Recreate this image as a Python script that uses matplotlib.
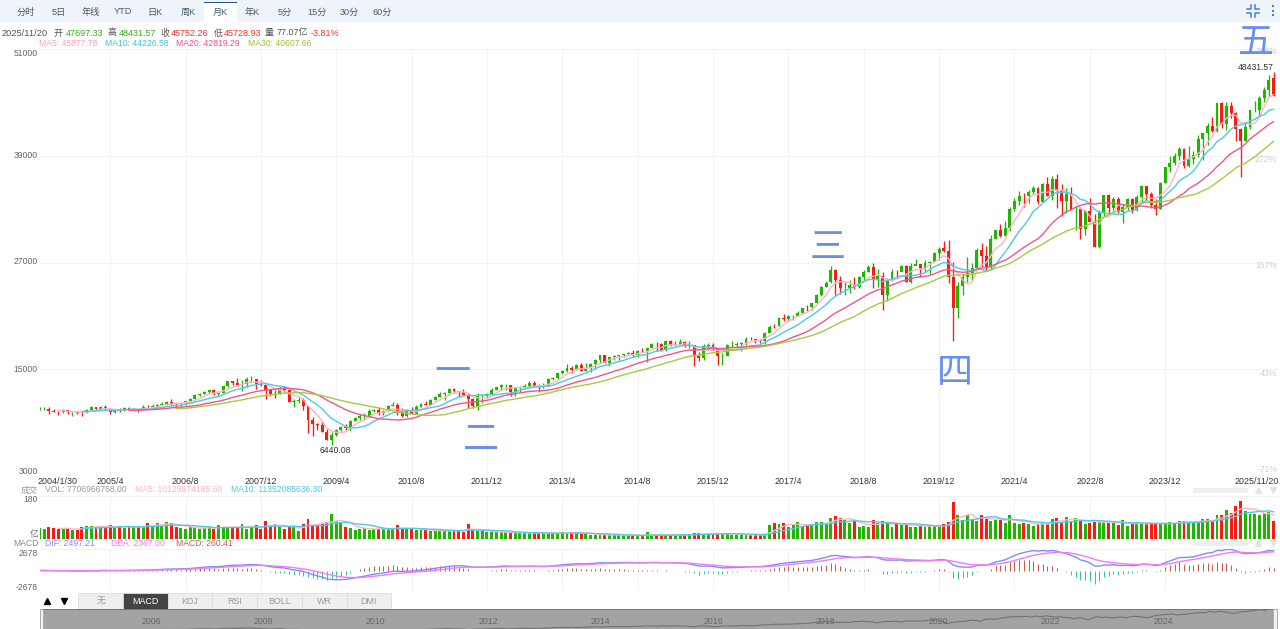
import numpy as np
import pandas as pd
import matplotlib
matplotlib.use('Agg')
import matplotlib.pyplot as plt
from matplotlib.patches import Rectangle

opens = [
 10454,10488,10584,10358,10226,10188,10435,10140,10174,10080,10027,10428,
 10783,10490,10766,10504,10193,10467,10275,10641,10482,10569,10440,10806,
 10718,10865,10993,11109,11367,11168,11150,11186,11381,11679,12081,12222,
 12463,12622,12269,12354,13063,13628,13409,13212,13358,13896,13930,13372,
 13262,12650,12266,12263,12820,12638,11346,11378,11544,10851,9325,8829,
 8772,8001,7063,7609,8168,8500,8447,9172,9496,9712,9713,10345,
 10428,10067,10325,10857,11009,10137,9774,10466,10015,10788,11118,11006,
 11577,11892,12226,12320,12811,12570,12414,12143,11614,10913,11955,12046,
 12218,12633,12952,13212,13214,12393,12880,13009,13091,13437,13096,13026,
 13104,13861,14054,14579,14840,15116,14910,15500,14810,15130,15546,16086,
 16577,15699,16322,16458,16581,16717,16827,16563,17098,17043,17391,17828,
 17823,17165,18133,17776,17841,18011,17620,17690,16528,16285,17664,17720,
 17425,16466,16517,17685,17774,17787,17930,18432,18401,18308,18142,19124,
 19872,19864,20812,20663,20941,21009,21350,21961,21948,22405,23377,24272,
 24809,26149,25029,24103,24163,24416,24271,25415,25965,26458,25116,25538,
 23346,25000,25958,25929,26593,24815,26600,26864,26403,26917,27046,28051,
 28639,28256,25409,21917,24346,25383,25813,26428,28430,27782,26502,29639,
 30606,29983,30932,32982,33875,34530,34503,34935,35361,33844,35820,34484,
 36338,35132,33893,34678,32977,32990,30775,32845,31510,28726,32733,34590,
 33147,34086,32657,33274,34098,32908,34408,35560,34722,33508,33053,35951,
 37690,38150,38996,39807,37816,38686,39119,40843,41563,42330,41764,44911,
 42544,44545,43841,42002,40669,42270,44095,44131,45545,46398,47697]
closes = [
 10488,10584,10358,10226,10188,10435,10140,10174,10080,10027,10428,10783,
 10490,10766,10504,10193,10467,10275,10641,10482,10569,10440,10806,10718,
 10865,10993,11109,11367,11168,11150,11186,11381,11679,12081,12222,12463,
 12622,12269,12354,13063,13628,13409,13212,13358,13896,13930,13372,13265,
 12650,12266,12263,12820,12638,11350,11378,11544,10851,9325,8829,8776,
 8001,7063,7609,8168,8500,8447,9172,9496,9712,9713,10345,10428,
 10067,10325,10857,11009,10137,9774,10466,10015,10788,11118,11006,11578,
 11892,12226,12320,12811,12570,12414,12143,11614,10913,11955,12046,12218,
 12633,12952,13212,13214,12393,12880,13009,13091,13437,13096,13026,13104,
 13861,14054,14579,14840,15116,14910,15500,14810,15130,15546,16086,16577,
 15699,16322,16458,16581,16717,16827,16563,17098,17043,17391,17828,17823,
 17165,18133,17776,17841,18011,17620,17690,16528,16285,17664,17720,17425,
 16466,16517,17685,17774,17787,17930,18432,18401,18308,18142,19124,19763,
 19864,20812,20663,20941,21009,21350,21891,21948,22405,23377,24272,24719,
 26149,25029,24103,24163,24416,24271,25415,25965,26458,25116,25538,23327,
 25000,25916,25929,26593,24815,26600,26864,26403,26917,27046,28051,28538,
 28256,25409,21917,24346,25383,25813,26428,28430,27782,26502,29639,30606,
 29983,30932,32982,33875,34530,34503,34935,35361,33844,35820,34484,36338,
 35132,33893,34678,32977,32990,30775,32845,31510,28726,32733,34590,33147,
 34086,32657,33274,34098,32908,34408,35560,34722,33508,33053,35951,37690,
 38150,38996,39807,37816,38686,39119,40843,41563,42330,41763,44911,42544,
 44545,43841,42002,40669,42270,44095,44131,45545,46398,47563,45752]
highs = [
 10703,10754,10754,10570,10283,10480,10362,10232,10342,10239,10572,10868,
 10784,10842,10984,10571,10542,10656,10705,10719,10700,10568,10931,10985,
 11043,11137,11317,11416,11709,11258,11243,11432,11718,12167,12361,12580,
 12683,12795,12587,13162,13692,13692,14022,13746,14115,14198,13778,13777,
 13279,12767,12622,13010,13136,12657,11698,11867,11790,10882,9654,8934,
 9088,8280,7976,8259,8588,8877,9239,9630,9918,10119,10497,10580,
 10730,10454,10973,11309,11258,10595,10580,10720,10948,11247,11451,11626,
 12020,12391,12419,12876,12876,12570,12753,12284,11717,12285,12188,12330,
 12843,13055,13290,13338,13279,12898,13160,13330,13653,13662,13290,13430,
 13970,14150,14586,14888,15542,15340,15634,15658,15710,15722,16175,16588,
 16588,16398,16589,16632,16736,16979,17152,17153,17350,17396,17895,18103,
 17951,18245,18289,18175,18351,18134,18138,17662,16933,17800,17978,17997,
 17405,16795,17790,18168,18017,18017,18623,18668,18450,18400,19153,19987,
 20126,20851,21170,21070,21113,21535,21930,22179,22420,23485,24328,24876,
 26617,26306,25450,24858,25087,25403,25461,26168,26770,26952,26277,25981,
 25240,26241,26156,26696,26668,26908,27399,26864,27306,27126,28174,28702,
 29374,29569,27102,24765,25759,27580,27000,28648,29199,28903,30116,30606,
 31272,31643,33259,34257,35091,34849,35171,35631,35444,35892,36565,36679,
 36953,35824,35372,35492,33312,33272,32910,34281,32504,32889,34600,34712,
 34335,34335,33572,34257,34257,34588,35679,35070,34979,34142,36025,37790,
 38927,39282,40003,39889,40077,39576,41376,41578,42628,43325,44900,45074,
 45054,45074,43900,42100,42842,44140,45138,45757,46715,48041,48431]
lows = [
 10417,10420,10014,10188,9853,10133,9961,9784,10002,9708,10027,10428,
 10368,10431,10403,10012,10094,10248,10259,10397,10320,10156,10406,10661,
 10661,10690,10933,11017,10955,10699,10684,11020,11285,11626,11985,12243,
 12330,12050,11939,12336,12990,13266,13111,12518,13029,13603,12725,13100,
 11635,12034,11731,12210,12459,11285,10731,11221,10365,7882,7449,8118,
 7909,7050,6440,7489,8057,8222,8087,9135,9252,9430,9679,10235,
 9908,9835,10322,10863,9870,9616,9614,9936,10009,10751,10929,11006,
 11575,11846,11555,12093,12309,11875,12090,10604,10597,10404,11231,11735,
 12217,12630,12705,12710,12035,12036,12492,12880,12977,13040,12471,12884,
 13105,13785,13937,14434,14700,14551,14900,14760,14777,14720,15075,15703,
 15699,15340,16015,16016,16334,16675,16333,16368,16945,15855,17372,17067,
 17038,17037,17585,17665,17736,17466,17400,15370,15942,16013,17210,17138,
 15450,15503,16546,17484,17331,17063,17713,18247,17992,17959,17884,19150,
 19678,19831,20412,20379,20554,21000,21279,21600,21709,22416,23242,24242,
 24741,23360,23509,23345,23531,23998,24078,25010,25978,24123,24268,21713,
 22638,24884,25209,25999,24829,24680,26700,25339,25979,25743,27301,27325,
 28170,24681,18213,20735,23361,24843,25000,26326,26537,26143,26269,29588,
 29857,29960,30547,32787,33473,33272,33741,34690,33613,33785,34424,34006,
 33150,32272,32578,32913,30635,29653,30143,32396,28715,28661,32208,32573,
 32812,32617,31429,32931,32586,32810,33706,34029,33176,32327,33044,35904,
 37122,37983,38487,37611,37772,38074,38879,38499,40253,41659,41659,42084,
 41844,43222,40661,36612,40700,41981,43900,43340,45051,45700,45729]
volumes = [
 45,41,52,45,41,45,45,37,39,52,55,55,50,52,52,58,48,52,48,52,50,52,52,66,
 55,66,55,72,66,52,45,44,52,48,41,47,50,44,58,50,47,48,48,63,41,50,59,41,
 76,52,63,52,44,52,52,34,63,84,60,58,65,72,104,76,66,52,47,38,44,48,38,43,
 44,45,41,41,58,44,44,43,38,38,38,33,36,34,34,36,36,38,32,63,37,34,33,30,
 30,28,29,28,28,26,28,25,25,25,25,25,25,23,23,28,25,29,28,23,23,19,17,18,
 18,18,18,18,12,18,17,14,14,29,14,17,18,18,19,18,18,18,19,25,25,22,22,23,
 26,25,23,19,17,19,19,18,18,18,17,59,66,62,67,52,60,70,52,58,59,70,70,66,
 88,96,89,78,69,74,52,55,52,78,69,77,72,52,66,59,59,52,52,59,51,56,54,51,
 63,72,154,98,80,98,84,74,100,85,77,80,80,69,98,67,65,69,62,55,63,69,63,84,
 88,72,92,72,88,76,63,69,74,73,72,69,69,59,80,54,65,65,65,69,63,63,65,65,
 70,65,76,77,72,69,72,84,84,73,100,99,120,107,138,158,117,106,105,100,107,113,77]
tick_labels = ['2005/4','2006/8','2007/12','2009/4','2010/8','2011/12','2013/4','2014/8',
               '2015/12','2017/4','2018/8','2019/12','2021/4','2022/8','2023/12']
price_ticks = [3000, 15000, 27000, 39000, 51000]
pct_labels = ['-71%', '43%', '157%', '272%', '386%']
nav_years = [2006, 2008, 2010, 2012, 2014, 2016, 2018, 2020, 2022, 2024]
tabs = ['分时','5日','年线','YTD','日K','周K','月K','年K','5分','15分','30分','60分']
ind_tabs = ['无','MACD','KDJ','RSI','BOLL','WR','DMI']

GREEN, RED = '#22b500', '#fb1a12'
C_MA5, C_MA10, C_MA20, C_MA30 = '#ffb3c8', '#4ec9e6', '#f2558c', '#a9c93f'
FONT = ['Liberation Sans', 'Noto Sans CJK SC']
W, H = 1280, 629
plt.rcParams['font.family'] = FONT
fig = plt.figure(figsize=(W/100, H/100), dpi=100, facecolor='white')

def panel(l, t, r, b, **kw):
    return fig.add_axes([l/W, 1-b/H, (r-l)/W, (b-t)/H], **kw)

o, c, hi, lo = map(np.array, (opens, closes, highs, lows))
x = np.arange(len(c))
up = c >= o
month_idx = [(int(s.split('/')[0])-2004)*12 + int(s.split('/')[1]) - 1 for s in tick_labels]
XL = ((40-39.5)/4.71, (1279-39.5)/4.71)

def base(ax):
    ax.set_xlim(*XL)
    ax.set_xticks(month_idx)
    ax.set_xticklabels([])
    ax.tick_params(length=0)
    ax.set_yticklabels([])
    for s in ax.spines.values():
        s.set_visible(False)
    ax.grid(True, color='#f3f3f3', lw=0.8)
    ax.set_axisbelow(True)
    ax.patch.set_alpha(0)

# main
ax = panel(40, 49, 1279, 476)
ax.set_ylim(3000, 3000 + (476-49)*12000/107)
ax.set_yticks(price_ticks)
base(ax)
ax.vlines(x, lo, hi, colors=[GREEN if u else RED for u in up], lw=0.95)
ax.bar(x, np.abs(c-o), bottom=np.minimum(c, o), width=0.62,
       color=[GREEN if u else RED for u in up], linewidth=0)
s = pd.Series(closes, dtype=float)
for n, col in ((5, C_MA5), (10, C_MA10), (20, C_MA20), (30, C_MA30)):
    ax.plot(x, s.rolling(n).mean(), color=col, lw=1.0)

# volume
av = panel(40, 496.3, 1279, 539.3)
av.set_ylim(0, 177)
av.set_yticks([0, 177])
base(av)
av.bar(x, volumes, width=0.62, color=[GREEN if u else RED for u in up], linewidth=0)
vs = pd.Series(volumes, dtype=float)
av.plot(x, vs.rolling(5).mean(), color=C_MA5, lw=1.0)
av.plot(x, vs.rolling(10).mean(), color=C_MA10, lw=1.0)

# macd
am = panel(40, 549, 1279, 592)
am.set_ylim(-2730, 2730)
am.set_yticks([-2730, 2730])
base(am)
dif = s.ewm(span=12, adjust=False).mean() - s.ewm(span=26, adjust=False).mean()
dea = dif.ewm(span=9, adjust=False).mean()
hist = 2*(dif-dea)
am.vlines(x, 0, hist, colors=['#c8553f' if v >= 0 else '#2fc49a' for v in hist], lw=0.7)
am.plot(x, dif, color='#7f8cff', lw=1.0)
am.plot(x, dea, color='#f57bf5', lw=1.0)

# navigator
an = panel(43, 609, 1273, 629)
an.set_facecolor('#a3a3a3')
an.set_xlim(24+(43-151)/4.685, 24+(1273-151)/4.685)
an.set_ylim(46000-18.5*1830, 46000+1.5*1830)
an.set_xticks([]); an.set_yticks([])
for sp in an.spines.values():
    sp.set_visible(False)
an.plot(x, s, color='#737373', lw=0.8)

# overlay
ov = fig.add_axes([0, 0, 1, 1])
ov.set_xlim(0, W); ov.set_ylim(H, 0); ov.axis('off'); ov.patch.set_alpha(0)

def T(px, py, txt, color='#666666', size=6.2, ha='left', va='center', **kw):
    ov.text(px, py, txt, color=color, fontsize=size, ha=ha, va=va, family=FONT, **kw)

def R(l, t, r, b, fc, ec='none', lw=0, z=1):
    ov.add_patch(Rectangle((l, t), r-l, b-t, facecolor=fc, edgecolor=ec, linewidth=lw, zorder=z))

# top bar
R(0, 0, W, 22, '#eff4fb')
R(204, 2, 236.5, 22.5, 'white')
R(204, 1.5, 236.5, 3, '#1f4fa8')
for i, t in enumerate(tabs):
    T(26 + i*32.37, 12, t, '#4a5a6a', 6.6, ha='center')
for xs, ys in (((1247, 1251, 1251), (9, 9, 5)), ((1259, 1255, 1255), (9, 9, 5)),
               ((1247, 1251, 1251), (13, 13, 17)), ((1259, 1255, 1255), (13, 13, 17))):
    ov.plot(xs, ys, color='#3a7fe0', lw=1.1)
for yy in (6, 10.5, 15):
    R(1272, yy-1, 1274, yy+1, '#3a7fe0')

# header
T(2, 33, '2025/11/20', '#555555', 6.7)
for px, t, col in ((54, '开', '#555555'), (66, '47697.33', '#36b21e'), (107, '高', '#555555'),
                   (119, '48431.57', '#36b21e'), (160, '收', '#555555'), (171, '45752.26', '#f0342c'),
                   (214, '低', '#555555'), (224, '45728.93', '#f0342c'), (265, '量', '#555555'),
                   (277, '77.07亿', '#555555'), (311, '-3.81%', '#f0342c')):
    T(px, 33, t, col, 6.5)
for px, t, col in ((39, 'MA5: 45877.78', '#ff9fbd'), (105, 'MA10: 44226.58', '#3fc4e4'),
                   (176, 'MA20: 42819.29', '#f0508a'), (248, 'MA30: 40607.66', '#9cc22e')):
    T(px, 44, t, col, 6.2)

# price axis labels
for v, yy in zip(price_ticks, (471, 369, 262, 156, 53)):
    T(38, yy, f'{v}', '#666666', 6.2, ha='right')
for t, yy in zip(pct_labels, (470, 373, 266, 159, 52)):
    T(1277, yy, t, '#cfcfcf', 6.2, ha='right')

# date labels
T(38, 481.5, '2004/1/30', '#333333', 6.4)
T(1279, 481.5, '2025/11/20', '#333333', 6.4, ha='right')
for t, m in zip(tick_labels, month_idx):
    T(39.5+4.71*m, 481.5, t, '#333333', 6.4, ha='center')
T(335, 450.5, '6440.08', '#333333', 6.2, ha='center')
T(1256, 67, '48431.57', '#333333', 6.2, ha='center')

# volume / macd labels
T(21, 490, '成交', '#999999', 6.2)
T(45, 490, 'VOL: 7706966768.00', '#999999', 6.2)
T(135, 490, 'MA5: 10125674165.60', '#ffb0c8', 6.2)
T(231, 490, 'MA10: 11352085636.30', '#4ec9e6', 6.2)
T(38, 500, '180', '#666666', 6.2, ha='right')
T(38, 534, '亿', '#666666', 6.2, ha='right')
T(13, 543, 'MACD', '#888888', 6.2)
T(45, 543, 'DIF: 2497.21', '#7f8cff', 6.2)
T(111, 543, 'DEA: 2367.00', '#f57bf5', 6.2)
T(176, 543, 'MACD: 260.41', '#c0605a', 6.2)
T(38, 553.5, '2678', '#666666', 6.2, ha='right')
T(38, 587, '-2678', '#666666', 6.2, ha='right')
for yy in (490, 543):
    R(1193, yy-2.5, 1248, yy+2.5, '#eeeeee')
    ov.plot([1258], [yy], marker='^', ms=5, color='#e4e4e4', ls='none')
    ov.plot([1273], [yy], marker='v', ms=5, color='#e4e4e4', ls='none')

# bottom buttons
ov.plot([46.5], [601], marker='^', ms=4.2, color='black', ls='none')
ov.plot([64], [601], marker='v', ms=4.2, color='black', ls='none')
bx = 78.3
for i, t in enumerate(ind_tabs):
    sel = t == 'MACD'
    R(bx+i*44.7, 593, bx+(i+1)*44.7, 609, '#444444' if sel else '#efefef', '#dddddd', 0.6)
    T(bx+(i+0.5)*44.7, 601, t, 'white' if sel else '#999999', 6.4, ha='center')

# navigator decor
R(43, 609, 1273, 610, '#777777', z=3)
R(39.5, 609, 43, 629, '#f2f2f2', '#aaaaaa', 0.7)
R(1273, 609, 1276.5, 629, '#f2f2f2', '#aaaaaa', 0.7)
for yr in nav_years:
    T(151+(yr-2006)*12*4.685, 622, str(yr), '#666666', 6.3, ha='center')

# large annotation characters
for px, py, t in ((452, 374, '一'), (481, 440, '二'), (828, 248, '三'), (955, 373, '四'), (1256, 43, '五')):
    T(px, py, t, '#6a8df2', 26, ha='center')

fig.savefig('out.png', dpi=100, facecolor='white')
